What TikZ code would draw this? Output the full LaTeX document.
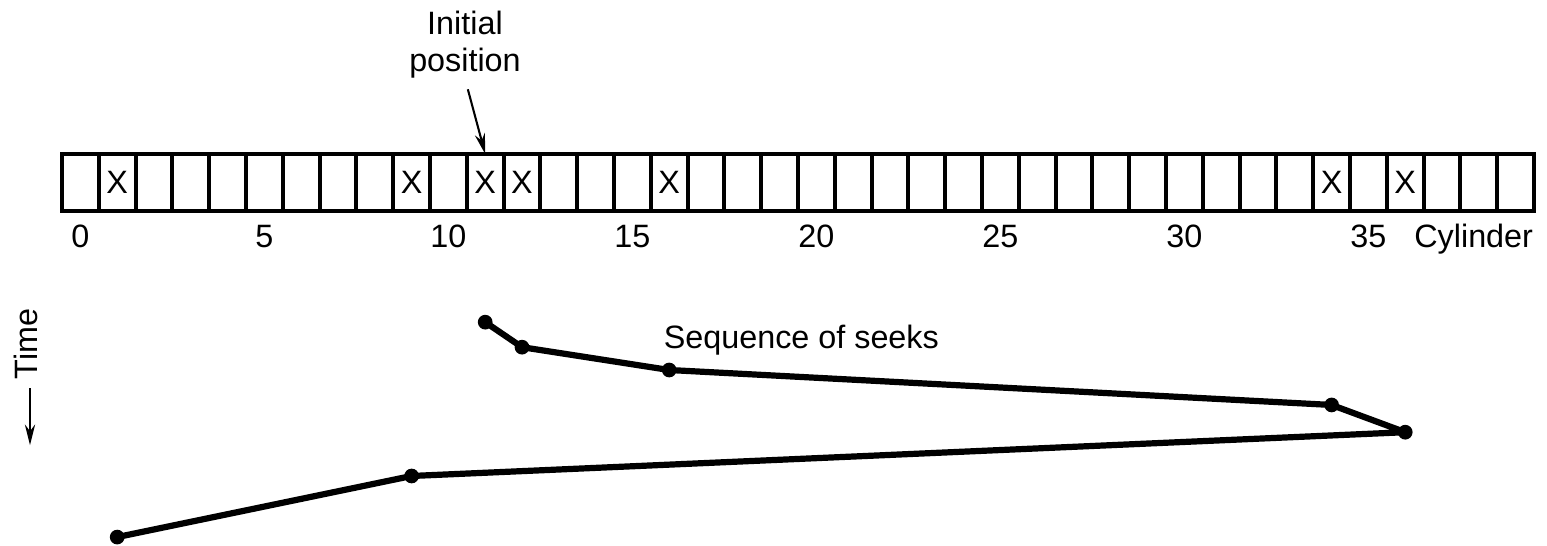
\documentclass[tikz,border=0pt]{standalone}
\usepackage{fontspec}
\setmainfont{Liberation Sans}
\usetikzlibrary{arrows.meta, positioning}

\begin{document}
\begin{tikzpicture}[
  x=0.5cm, y=0.5cm,
  every node/.style={font=\fontsize{12.5}{14.3}\selectfont, inner sep=0pt, outer sep=0pt},
  cell/.style={draw, line width=1.5pt, minimum width=0.5cm, minimum height=0.775cm},
  lbl/.style={anchor=base},
  dot/.style={circle, fill, minimum size=0.2cm},
  seek/.style={line width=2.4pt, line join=round},
  pointer/.style={draw, line width=0.8pt, -{Stealth[length=2.8mm, width=1.4mm]}}
]
\useasboundingbox (-1.685,-9.076) rectangle (40.353,5.734);

\foreach \i in {0,...,39}
  \node[cell] (c\i) at (\i+0.5,0.775) {};
\foreach \i in {1,9,11,12,16,34,36}
  \node (x\i) at (c\i) {X};
\foreach \n in {0,5,...,35}
  \node[lbl] (l\n) at (\n+0.5,-1.0) {\n};
\node[base right=0.38cm of l35] (cyl) {Cylinder};

\node[align=center] (init) at (10.95,4.51) {Initial\\position};
\draw[pointer, shorten <=0.15cm] (init.south) -- (c11.north);

\node[rotate=90] (time) at (-0.98,-3.61) {Time};
\coordinate (tend) at (-0.87,-6.36);
\draw[pointer, shorten <=0.12cm] (time.west -| tend) -- (tend);

\foreach \c/\t [count=\k] in {11/-3.02, 12/-3.70, 16/-4.32, 34/-5.27, 36/-6.01, 9/-7.20, 1/-8.86}
  \node[dot] (p\k) at (\c+0.5,\t) {};
\draw[seek] (p1.center) -- (p2.center) -- (p3.center) -- (p4.center)
  -- (p5.center) -- (p6.center) -- (p7.center);
\node[lbl] (seq) at (20.09,-3.74) {Sequence of seeks};
\end{tikzpicture}
\end{document}
